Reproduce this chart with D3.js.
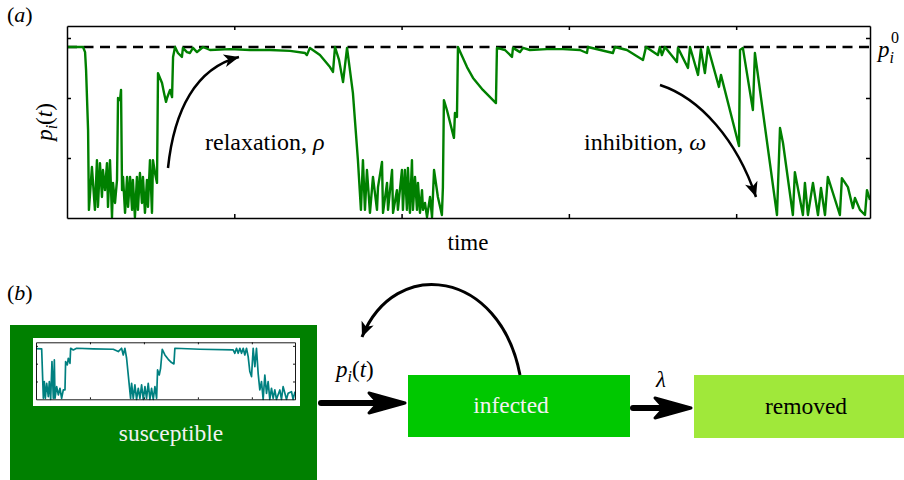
<!DOCTYPE html>
<html>
<head>
<meta charset="utf-8">
<script src="https://cdn.jsdelivr.net/npm/d3@7"></script>
<style>
	body {margin: 0; background: #fff;}
	text {font-family: "Liberation Serif", "Times New Roman", serif;}
</style>
</head>
<body>
<div id="chart"></div>
<script>
// (a) main trace of p_i(t)
var times = [0, 0.096, 0.108, 0.114, 0.126, 0.131, 0.149, 0.167, 0.179, 0.185, 0.197, 0.209, 0.215, 0.227, 0.239, 0.245, 0.257, 0.269, 0.275, 0.287, 0.299, 0.305, 0.317, 0.323, 0.329, 0.335, 0.347, 0.359, 0.365, 0.377, 0.389, 0.394, 0.406, 0.418, 0.424, 0.436, 0.448, 0.454, 0.466, 0.478, 0.484, 0.496, 0.508, 0.514, 0.526, 0.538, 0.544, 0.568, 0.58, 0.592, 0.598, 0.616, 0.628, 0.634, 0.646, 0.663, 0.687, 0.693, 0.717, 0.735, 0.753, 0.777, 0.813, 0.855, 0.974, 1.094, 1.213, 1.333, 1.423, 1.434, 1.452, 1.512, 1.572, 1.59, 1.602, 1.626, 1.65, 1.674, 1.709, 1.739, 1.757, 1.769, 1.781, 1.793, 1.811, 1.829, 1.853, 1.859, 1.883, 1.889, 1.913, 1.919, 1.943, 1.949, 1.972, 1.978, 2.002, 2.008, 2.02, 2.032, 2.038, 2.05, 2.062, 2.068, 2.08, 2.092, 2.098, 2.11, 2.122, 2.128, 2.14, 2.152, 2.17, 2.182, 2.194, 2.217, 2.241, 2.247, 2.253, 2.271, 2.313, 2.319, 2.331, 2.337, 2.391, 2.427, 2.486, 2.564, 2.57, 2.618, 2.66, 2.666, 2.708, 2.726, 2.767, 2.869, 2.965, 3.066, 3.108, 3.114, 3.263, 3.275, 3.347, 3.443, 3.461, 3.532, 3.544, 3.556, 3.574, 3.646, 3.652, 3.712, 3.724, 3.772, 3.789, 3.813, 3.831, 3.897, 3.909, 4.017, 4.023, 4.04, 4.1, 4.112, 4.244, 4.262, 4.28, 4.339, 4.351, 4.399, 4.411, 4.429, 4.459, 4.489, 4.507, 4.531, 4.548, 4.62, 4.632, 4.668, 4.698, 4.71, 4.74, 4.77, 4.782, 4.8];
var values = [0.57, 0.57, 0.553, 0.493, 0.293, 0.027, 0.17, 0.027, 0.193, 0.037, 0.183, 0.07, 0.16, 0.093, 0.183, 0.037, 0.193, 0.003, 0.117, 0.05, 0.127, 0.4, 0.393, 0.427, 0.093, 0.137, 0.017, 0.137, 0.037, 0.137, 0.027, 0.127, 0.003, 0.137, 0.027, 0.15, 0.05, 0.137, 0.017, 0.127, 0.037, 0.193, 0.017, 0.193, 0.15, 0.117, 0.483, 0.45, 0.417, 0.387, 0.4, 0.427, 0.403, 0.537, 0.57, 0.55, 0.537, 0.567, 0.553, 0.55, 0.567, 0.553, 0.57, 0.56, 0.563, 0.56, 0.56, 0.557, 0.55, 0.543, 0.567, 0.543, 0.503, 0.487, 0.57, 0.527, 0.453, 0.567, 0.417, 0.193, 0.027, 0.193, 0.027, 0.16, 0.017, 0.137, 0.027, 0.103, 0.187, 0.017, 0.117, 0.027, 0.16, 0.017, 0.093, 0.027, 0.16, 0.027, 0.16, 0.027, 0.167, 0.017, 0.193, 0.027, 0.137, 0.027, 0.117, 0.017, 0.093, 0.027, 0.05, 0.003, 0.07, 0.003, 0.16, 0.07, 0.01, 0.103, 0.393, 0.36, 0.267, 0.35, 0.337, 0.57, 0.503, 0.467, 0.427, 0.383, 0.567, 0.56, 0.537, 0.567, 0.553, 0.567, 0.56, 0.563, 0.563, 0.56, 0.55, 0.57, 0.55, 0.57, 0.56, 0.527, 0.57, 0.543, 0.57, 0.543, 0.57, 0.52, 0.567, 0.5, 0.57, 0.477, 0.563, 0.483, 0.57, 0.437, 0.477, 0.24, 0.56, 0.567, 0.36, 0.55, 0.01, 0.3, 0.25, 0.01, 0.153, 0.01, 0.117, 0.01, 0.117, 0.01, 0.1, 0.01, 0.137, 0.01, 0.133, 0.103, 0.033, 0.067, 0.027, 0.01, 0.093, 0.06];

// (b) small trace drawn inside the susceptible box
var insetTimes = [0, 0.105, 0.136, 0.154, 0.173, 0.198, 0.228, 0.247, 0.272, 0.296, 0.321, 0.34, 0.352, 0.383, 0.414, 0.444, 0.475, 0.506, 0.537, 0.549, 0.58, 0.599, 0.63, 0.642, 0.691, 0.753, 1.062, 1.432, 1.525, 1.586, 1.617, 1.648, 1.679, 1.753, 1.772, 1.802, 1.833, 1.864, 1.895, 1.926, 1.957, 1.988, 2.019, 2.049, 2.08, 2.111, 2.142, 2.173, 2.204, 2.235, 2.253, 2.284, 2.309, 2.34, 2.389, 2.451, 2.512, 2.556, 2.574, 3.037, 3.654, 3.685, 3.716, 3.747, 3.778, 3.809, 3.84, 3.87, 3.901, 3.932, 3.963, 3.994, 4.025, 4.056, 4.086, 4.117, 4.148, 4.179, 4.21, 4.241, 4.272, 4.302, 4.333, 4.364, 4.395, 4.426, 4.457, 4.519, 4.549, 4.58, 4.642, 4.673, 4.735, 4.765, 4.8];
var insetValues = [0.57, 0.566, 0.011, 0.199, 0.011, 0.18, 0.03, 0.199, 0, 0.423, 0.011, 0.442, 0.011, 0.142, 0.049, 0.124, 0.011, 0.105, 0.105, 0.423, 0.386, 0.461, 0.404, 0.573, 0.554, 0.573, 0.566, 0.562, 0.536, 0.573, 0.498, 0.573, 0.461, 0.011, 0.18, 0.011, 0.161, 0, 0.124, 0.011, 0.161, 0, 0.142, 0.011, 0.18, 0, 0.124, 0, 0.142, 0.011, 0.33, 0.273, 0.348, 0.562, 0.498, 0.449, 0.412, 0.397, 0.573, 0.562, 0.554, 0.517, 0.573, 0.517, 0.573, 0.517, 0.573, 0.498, 0.573, 0.479, 0.311, 0.255, 0.573, 0.367, 0.573, 0.292, 0.105, 0.199, 0, 0.273, 0.067, 0.199, 0, 0.124, 0.011, 0.105, 0, 0.105, 0, 0.142, 0, 0.067, 0.086, 0, 0.086];

var p0 = 0.57;
var xTicks = [1, 2, 3, 4];
var yTicks = [0.2, 0.4, 0.6];
var states = ['susceptible', 'infected', 'removed'];
var stateColors = ['#008000', '#00c800', '#a0e83a'];

var width = 904, height = 480;

var svg = d3.select('#chart')
	.append('svg')
	.attr('width', width)
	.attr('height', height)
	.style('display', 'block');

svg.append('rect').attr('width', width).attr('height', height).attr('fill', '#fff');

var defs = svg.append('defs');
defs.append('marker')
	.attr('id', 'head')
	.attr('markerUnits', 'userSpaceOnUse')
	.attr('viewBox', '-16 -8 18 16')
	.attr('refX', 0).attr('refY', 0)
	.attr('markerWidth', 18).attr('markerHeight', 16)
	.attr('orient', 'auto')
	.append('path')
	.attr('d', 'M0,0 L-15,-6.5 L-11,0 L-15,6.5 Z')
	.attr('fill', '#000');

// a helper for one little framed plot with ticks on four sides
var framePlot = function(g, x, y, tick, stroke) {
	var xr = x.range(), yr = y.range();
	[['axisBottom', yr[0]], ['axisTop', yr[1]]].forEach(function(a) {
		g.append('g')
			.attr('transform', 'translate(0,' + a[1] + ')')
			.call(d3[a[0]](x).tickValues(xTicks).tickSizeInner(-tick).tickSizeOuter(0).tickFormat(''))
			.call(function(s) {s.selectAll('path,line').attr('stroke', '#000').attr('stroke-width', stroke);});
	});
	[['axisLeft', xr[0]], ['axisRight', xr[1]]].forEach(function(a) {
		g.append('g')
			.attr('transform', 'translate(' + a[1] + ',0)')
			.call(d3[a[0]](y).tickValues(yTicks).tickSizeInner(-tick).tickSizeOuter(0).tickFormat(''))
			.call(function(s) {s.selectAll('path,line').attr('stroke', '#000').attr('stroke-width', stroke);});
	});
};

// ---------- (a) ----------
var x = d3.scaleLinear().domain([0, 4.8]).range([67, 870]);
var y = d3.scaleLinear().domain([0, 0.64]).range([218, 26]);

defs.append('clipPath').attr('id', 'clipA')
	.append('rect').attr('x', 67).attr('y', 26).attr('width', 803).attr('height', 192);

svg.append('line')
	.attr('x1', x(0)).attr('x2', x(4.8))
	.attr('y1', y(p0)).attr('y2', y(p0))
	.attr('stroke', '#000')
	.attr('stroke-width', 2.4)
	.attr('stroke-dasharray', '10,6.5');

var line = d3.line()
	.x(function(d) {return x(times[d])})
	.y(function(d) {return y(values[d])});

svg.append('path')
	.attr('clip-path', 'url(#clipA)')
	.attr('d', line(d3.range(times.length)))
	.attr('fill', 'none')
	.attr('stroke', '#008000')
	.attr('stroke-width', 2.4)
	.attr('stroke-linejoin', 'round');

framePlot(svg.append('g'), x, y, 4, 1.5);

svg.append('text').attr('x', 7).attr('y', 22).style('font-size', '22px')
	.html('(<tspan font-style="italic">a</tspan>)');

svg.append('text')
	.attr('transform', 'translate(52,122) rotate(-90)')
	.attr('text-anchor', 'middle')
	.style('font-size', '23px')
	.html('<tspan font-style="italic">p</tspan><tspan font-style="italic" font-size="16px" dy="5">i</tspan><tspan dy="-5">(</tspan><tspan font-style="italic">t</tspan>)');

svg.append('text').attr('x', 878).attr('y', 57).style('font-size', '23px')
	.html('<tspan font-style="italic">p</tspan><tspan font-style="italic" font-size="16px" dy="6">i</tspan>');
svg.append('text').attr('x', 891).attr('y', 43).style('font-size', '16px').text('0');

svg.append('text').attr('x', 468).attr('y', 250).attr('text-anchor', 'middle')
	.style('font-size', '23px').text('time');

svg.append('text').attr('x', 205).attr('y', 150).style('font-size', '24px')
	.html('relaxation, <tspan font-style="italic">ρ</tspan>');
svg.append('text').attr('x', 584).attr('y', 150).style('font-size', '24px')
	.html('inhibition, <tspan font-style="italic">ω</tspan>');

svg.append('path')
	.attr('d', 'M168,168 C174,110 196,68 239,57')
	.attr('fill', 'none').attr('stroke', '#000').attr('stroke-width', 2.5)
	.attr('marker-end', 'url(#head)');
svg.append('path')
	.attr('d', 'M660,85 C700,98 737,140 756,197')
	.attr('fill', 'none').attr('stroke', '#000').attr('stroke-width', 2.5)
	.attr('marker-end', 'url(#head)');

// ---------- (b) ----------
svg.append('text').attr('x', 7).attr('y', 300).style('font-size', '22px')
	.html('(<tspan font-style="italic">b</tspan>)');

var boxes = [
	{x: 10, y: 325, w: 307, h: 160, tx: 171, ty: 441, fill: '#f2f2f2'},
	{x: 408, y: 375, w: 222, h: 62, tx: 511, ty: 413, fill: '#f2f2f2'},
	{x: 694, y: 375, w: 215, h: 63, tx: 806, ty: 414, fill: '#000'}
];

svg.selectAll('rect.state')
	.data(states)
	.enter()
	.append('rect')
	.attr('class', 'state')
	.attr('x', function(d, i) {return boxes[i].x})
	.attr('y', function(d, i) {return boxes[i].y})
	.attr('width', function(d, i) {return boxes[i].w})
	.attr('height', function(d, i) {return boxes[i].h})
	.attr('fill', function(d, i) {return stateColors[i]});

svg.selectAll('text.state')
	.data(states)
	.enter()
	.append('text')
	.attr('class', 'state')
	.attr('x', function(d, i) {return boxes[i].tx})
	.attr('y', function(d, i) {return boxes[i].ty})
	.attr('text-anchor', 'middle')
	.attr('fill', function(d, i) {return boxes[i].fill})
	.style('font-size', '23.5px')
	.text(function(d) {return d});

// inset
svg.append('rect').attr('x', 33).attr('y', 338).attr('width', 267).attr('height', 68).attr('fill', '#fff');
var xi = d3.scaleLinear().domain([0, 4.8]).range([36, 295]);
var yi = d3.scaleLinear().domain([0, 0.64]).range([399.3, 342.3]);
var lineI = d3.line()
	.x(function(d) {return xi(insetTimes[d])})
	.y(function(d) {return yi(insetValues[d])});
svg.append('path')
	.attr('d', lineI(d3.range(insetTimes.length)))
	.attr('fill', 'none')
	.attr('stroke', '#008080')
	.attr('stroke-width', 1.7)
	.attr('stroke-linejoin', 'round');
framePlot(svg.append('g'), xi, yi, 2, 0.9);

// thick arrows
var bigHead = function(tipX, tipY, len, half) {
	return 'M' + tipX + ',' + tipY +
		' L' + (tipX - len) + ',' + (tipY - half) +
		' L' + (tipX - len * 0.75) + ',' + tipY +
		' L' + (tipX - len) + ',' + (tipY + half) + ' Z';
};
svg.append('line').attr('x1', 321).attr('x2', 385).attr('y1', 403).attr('y2', 403)
	.attr('stroke', '#000').attr('stroke-width', 6).attr('stroke-linecap', 'round');
svg.append('path').attr('d', bigHead(405, 403, 36, 10))
	.attr('fill', '#000').attr('stroke', '#000').attr('stroke-width', 3).attr('stroke-linejoin', 'round');

svg.append('line').attr('x1', 633).attr('x2', 675).attr('y1', 408).attr('y2', 408)
	.attr('stroke', '#000').attr('stroke-width', 6).attr('stroke-linecap', 'round');
svg.append('path').attr('d', bigHead(691, 408, 36, 10))
	.attr('fill', '#000').attr('stroke', '#000').attr('stroke-width', 3).attr('stroke-linejoin', 'round');

svg.append('path')
	.attr('d', 'M520,375 C500,270 395,255 362,337')
	.attr('fill', 'none').attr('stroke', '#000').attr('stroke-width', 3)
	.attr('marker-end', 'url(#head)');

svg.append('text').attr('x', 336).attr('y', 377).style('font-size', '23px')
	.html('<tspan font-style="italic">p</tspan><tspan font-style="italic" font-size="16px" dy="5">i</tspan><tspan dy="-5">(</tspan><tspan font-style="italic">t</tspan>)');

svg.append('text').attr('x', 661).attr('y', 387).attr('text-anchor', 'middle')
	.style('font-size', '23px').style('font-style', 'italic').text('λ');
</script>
</body>
</html>
